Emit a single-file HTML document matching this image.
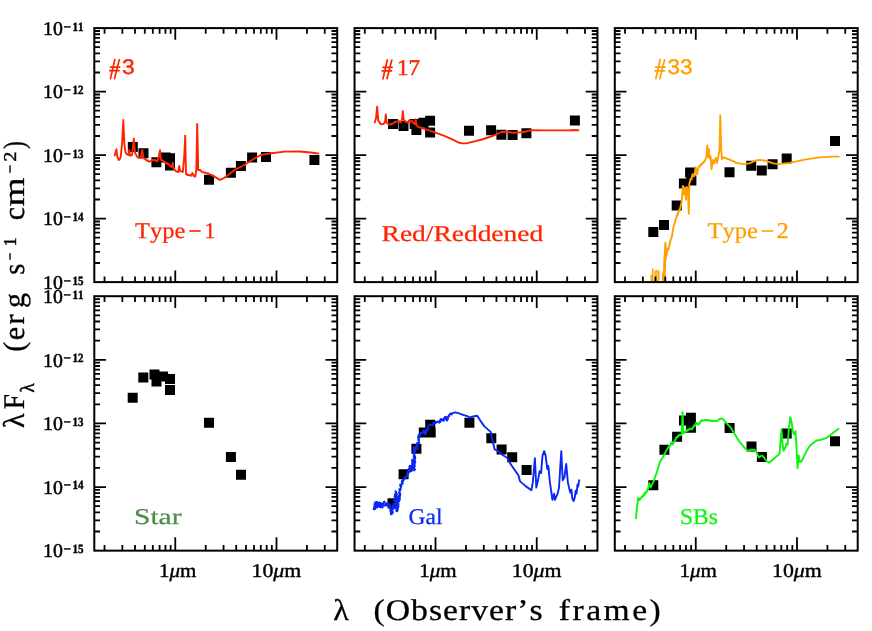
<!DOCTYPE html>
<html><head><meta charset="utf-8"><title>SED</title>
<style>html,body{margin:0;padding:0;background:#fff;overflow:hidden}svg{display:block;will-change:transform}text{font-kerning:none;text-rendering:geometricPrecision}</style></head>
<body>
<svg width="872" height="631" viewBox="0 0 872 631">
<rect width="872" height="631" fill="#fff"/>
<path d="M127.80 141.90h10.0v10.0h-10.0zM138.50 148.20h10.0v10.0h-10.0zM151.40 157.20h10.0v10.0h-10.0zM160.70 152.40h10.0v10.0h-10.0zM165.00 153.20h10.0v10.0h-10.0zM165.00 160.50h10.0v10.0h-10.0zM204.00 174.70h10.0v10.0h-10.0zM225.90 167.80h10.0v10.0h-10.0zM235.90 161.10h10.0v10.0h-10.0zM247.10 152.60h10.0v10.0h-10.0zM261.00 151.90h10.0v10.0h-10.0zM309.40 154.90h10.0v10.0h-10.0z" fill="#000"/>
<clipPath id="c00"><rect x="94.3" y="28.1" width="242.9" height="254.00000000000003"/></clipPath>
<g clip-path="url(#c00)">
<path d="M114.7 155.4L116.4 149.2L117.4 157.1L117.8 158.1L117.7 157.7L118.2 159.0L118.3 159.3L118.6 159.8L118.8 160.2L119.0 159.8L119.4 159.1L119.9 158.9L120.1 158.6L120.3 157.6L120.7 157.1L122.1 142.8L123.3 120.0L124.3 142.8L125.4 152.1L125.6 152.1L126.0 153.0L126.5 153.4L126.8 154.0L127.1 154.5L127.7 154.5L128.5 155.0L129.3 150.0L130.0 155.7L130.4 155.4L131.2 155.4L131.5 155.3L132.1 155.0L133.8 138.5L135.0 152.8L137.4 157.1L138.0 157.6L138.6 157.6L139.1 157.7L139.7 157.4L140.0 158.1L140.7 157.8L142.4 150.0L143.2 157.8L143.8 158.4L144.2 158.5L144.8 158.9L145.3 159.3L145.7 159.7L146.3 159.8L146.7 160.6L147.3 160.5L147.7 160.9L148.1 160.6L148.6 161.4L149.2 161.4L149.6 161.6L150.2 161.4L150.8 161.3L151.3 160.6L151.8 160.6L152.2 160.0L152.8 160.0L153.5 159.9L153.8 160.0L154.5 160.1L155.0 159.7L155.4 160.5L155.9 160.8L156.5 161.1L157.1 161.4L157.5 160.5L157.7 159.8L157.9 160.0L158.3 158.8L158.5 158.5L160.0 150.2L161.1 160.0L161.7 160.3L162.1 160.2L162.7 160.7L163.3 161.0L163.8 161.3L164.2 162.1L164.7 161.9L165.2 162.9L165.9 162.6L166.2 163.0L166.8 163.9L167.4 163.2L168.0 164.1L168.5 164.2L168.9 164.2L169.3 164.6L169.8 165.7L170.2 166.3L170.6 166.6L170.9 166.7L171.4 167.1L172.8 162.8L173.5 168.5L173.9 169.1L174.3 168.9L174.6 170.1L175.1 170.2L175.5 170.6L175.9 171.4L176.4 171.4L177.0 171.7L177.6 171.4L178.2 172.1L179.2 166.0L180.2 171.4L180.7 171.2L181.4 171.3L182.2 171.5L182.8 172.1L184.2 157.1L185.2 135.7L186.0 174.2L186.8 174.4L187.4 175.0L187.9 174.5L188.5 175.0L189.1 174.9L189.7 175.4L190.1 175.6L190.7 175.5L191.3 175.7L191.4 174.7L191.7 174.6L191.9 174.4L192.2 173.2L192.5 173.1L192.6 173.4L192.9 174.2L193.1 174.5L193.4 174.9L193.5 175.7L194.2 176.4L194.7 176.1L195.3 176.4L196.3 170.0L197.2 124.0L198.2 170.0L198.6 170.1L199.3 169.9L199.9 170.0L200.2 170.0L200.8 171.0L201.4 171.1L201.7 171.5L202.2 172.2L202.7 172.1L208.4 173.5L214.5 176.6L219.7 179.9L223.4 178.4L229.4 174.0L234.6 169.9L243.5 165.5L251.7 160.2L260.7 155.0L269.6 153.5L284.5 151.6L299.4 151.5L308.4 152.3L318.1 153.5" stroke="#ff2400" stroke-width="1.9" fill="none" stroke-linejoin="round" stroke-linecap="round"/>
</g>
<rect x="94.30" y="28.10" width="242.90" height="254.00" fill="none" stroke="#000" stroke-width="2.0"/>
<path d="M104.53 282.10v-5.7M104.53 28.10v5.7M122.35 282.10v-5.7M122.35 28.10v5.7M134.99 282.10v-5.7M134.99 28.10v5.7M144.80 282.10v-5.7M144.80 28.10v5.7M152.81 282.10v-5.7M152.81 28.10v5.7M159.59 282.10v-5.7M159.59 28.10v5.7M165.46 282.10v-5.7M165.46 28.10v5.7M170.64 282.10v-5.7M170.64 28.10v5.7M175.27 282.10v-11.5M175.27 28.10v11.7M205.73 282.10v-5.7M205.73 28.10v5.7M223.56 282.10v-5.7M223.56 28.10v5.7M236.20 282.10v-5.7M236.20 28.10v5.7M246.01 282.10v-5.7M246.01 28.10v5.7M254.02 282.10v-5.7M254.02 28.10v5.7M260.80 282.10v-5.7M260.80 28.10v5.7M266.67 282.10v-5.7M266.67 28.10v5.7M271.84 282.10v-5.7M271.84 28.10v5.7M276.48 282.10v-11.5M276.48 28.10v11.7M306.94 282.10v-5.7M306.94 28.10v5.7M324.76 282.10v-5.7M324.76 28.10v5.7M94.30 91.60h11.7M337.20 91.60h-11.7M94.30 72.48h5.7M337.20 72.48h-5.7M94.30 61.30h5.7M337.20 61.30h-5.7M94.30 53.37h5.7M337.20 53.37h-5.7M94.30 47.22h5.7M337.20 47.22h-5.7M94.30 42.19h5.7M337.20 42.19h-5.7M94.30 37.94h5.7M337.20 37.94h-5.7M94.30 34.25h5.7M337.20 34.25h-5.7M94.30 31.01h5.7M337.20 31.01h-5.7M94.30 155.10h11.7M337.20 155.10h-11.7M94.30 135.98h5.7M337.20 135.98h-5.7M94.30 124.80h5.7M337.20 124.80h-5.7M94.30 116.87h5.7M337.20 116.87h-5.7M94.30 110.72h5.7M337.20 110.72h-5.7M94.30 105.69h5.7M337.20 105.69h-5.7M94.30 101.44h5.7M337.20 101.44h-5.7M94.30 97.75h5.7M337.20 97.75h-5.7M94.30 94.51h5.7M337.20 94.51h-5.7M94.30 218.60h11.7M337.20 218.60h-11.7M94.30 199.48h5.7M337.20 199.48h-5.7M94.30 188.30h5.7M337.20 188.30h-5.7M94.30 180.37h5.7M337.20 180.37h-5.7M94.30 174.22h5.7M337.20 174.22h-5.7M94.30 169.19h5.7M337.20 169.19h-5.7M94.30 164.94h5.7M337.20 164.94h-5.7M94.30 161.25h5.7M337.20 161.25h-5.7M94.30 158.01h5.7M337.20 158.01h-5.7M94.30 262.98h5.7M337.20 262.98h-5.7M94.30 251.80h5.7M337.20 251.80h-5.7M94.30 243.87h5.7M337.20 243.87h-5.7M94.30 237.72h5.7M337.20 237.72h-5.7M94.30 232.69h5.7M337.20 232.69h-5.7M94.30 228.44h5.7M337.20 228.44h-5.7M94.30 224.75h5.7M337.20 224.75h-5.7M94.30 221.51h5.7M337.20 221.51h-5.7" stroke="#000" stroke-width="1.8" fill="none"/>
<path d="M388.00 118.90h10.0v10.0h-10.0zM398.50 120.90h10.0v10.0h-10.0zM409.60 118.90h10.0v10.0h-10.0zM411.40 124.90h10.0v10.0h-10.0zM418.50 117.80h10.0v10.0h-10.0zM425.10 115.70h10.0v10.0h-10.0zM425.10 127.60h10.0v10.0h-10.0zM464.00 125.80h10.0v10.0h-10.0zM486.10 125.30h10.0v10.0h-10.0zM496.40 129.80h10.0v10.0h-10.0zM507.60 130.10h10.0v10.0h-10.0zM521.40 128.20h10.0v10.0h-10.0zM569.90 115.50h10.0v10.0h-10.0z" fill="#000"/>
<clipPath id="c10"><rect x="354.55" y="28.1" width="242.9" height="254.00000000000003"/></clipPath>
<g clip-path="url(#c10)">
<path d="M374.7 122.5L376.0 118.5L377.1 106.8L378.3 120.7L378.7 121.0L379.0 121.5L379.2 122.2L379.8 122.2L380.0 122.9L380.4 123.9L380.7 124.0L381.3 124.3L381.7 124.1L382.5 124.1L383.0 124.0L383.5 124.0L383.8 123.7L384.3 123.3L384.5 122.4L385.0 122.1L385.8 114.5L386.7 122.8L387.2 123.4L387.8 123.7L388.4 124.0L388.9 124.1L389.3 124.5L390.0 124.3L390.4 124.5L391.0 123.7L391.6 124.2L392.2 123.8L392.8 123.5L393.3 123.2L393.8 122.7L394.3 122.5L394.8 122.2L395.3 122.0L395.7 121.4L396.2 121.5L397.0 121.6L397.5 121.6L398.0 121.4L398.6 121.4L399.2 121.1L399.6 121.4L400.3 122.3L400.7 122.5L401.0 121.6L401.1 121.4L401.5 120.7L401.5 120.7L401.8 119.9L402.1 119.3L402.8 111.1L403.7 119.3L404.1 120.0L404.6 120.6L405.0 120.7L405.2 121.1L405.7 121.7L406.1 122.0L406.7 121.9L407.2 122.4L407.8 122.5L408.2 121.6L408.6 121.3L408.8 121.2L409.2 120.3L409.7 120.7L410.2 121.3L410.7 121.7L411.2 121.4L411.6 121.4L412.1 120.7L412.4 121.2L412.6 121.6L412.9 122.8L413.1 123.0L413.5 123.5L414.2 123.8L414.9 124.2L415.7 119.3L416.4 125.0L416.8 125.0L417.1 125.8L417.7 126.2L418.0 126.6L418.5 126.8L424.2 128.8L434.2 132.1L445.6 136.4L452.8 139.7L458.5 142.5L462.0 143.4L467.0 143.2L472.7 141.8L481.9 139.5L493.9 135.5L501.3 132.0L505.8 131.7L513.2 132.8L522.2 132.2L531.1 130.3L544.5 130.4L569.9 130.4L572.9 130.0L578.4 130.2" stroke="#ff2400" stroke-width="1.9" fill="none" stroke-linejoin="round" stroke-linecap="round"/>
</g>
<rect x="354.55" y="28.10" width="242.90" height="254.00" fill="none" stroke="#000" stroke-width="2.0"/>
<path d="M364.78 282.10v-5.7M364.78 28.10v5.7M382.60 282.10v-5.7M382.60 28.10v5.7M395.24 282.10v-5.7M395.24 28.10v5.7M405.05 282.10v-5.7M405.05 28.10v5.7M413.06 282.10v-5.7M413.06 28.10v5.7M419.84 282.10v-5.7M419.84 28.10v5.7M425.71 282.10v-5.7M425.71 28.10v5.7M430.89 282.10v-5.7M430.89 28.10v5.7M435.52 282.10v-11.5M435.52 28.10v11.7M465.98 282.10v-5.7M465.98 28.10v5.7M483.81 282.10v-5.7M483.81 28.10v5.7M496.45 282.10v-5.7M496.45 28.10v5.7M506.26 282.10v-5.7M506.26 28.10v5.7M514.27 282.10v-5.7M514.27 28.10v5.7M521.05 282.10v-5.7M521.05 28.10v5.7M526.92 282.10v-5.7M526.92 28.10v5.7M532.09 282.10v-5.7M532.09 28.10v5.7M536.73 282.10v-11.5M536.73 28.10v11.7M567.19 282.10v-5.7M567.19 28.10v5.7M585.01 282.10v-5.7M585.01 28.10v5.7M354.55 91.60h11.7M597.45 91.60h-11.7M354.55 72.48h5.7M597.45 72.48h-5.7M354.55 61.30h5.7M597.45 61.30h-5.7M354.55 53.37h5.7M597.45 53.37h-5.7M354.55 47.22h5.7M597.45 47.22h-5.7M354.55 42.19h5.7M597.45 42.19h-5.7M354.55 37.94h5.7M597.45 37.94h-5.7M354.55 34.25h5.7M597.45 34.25h-5.7M354.55 31.01h5.7M597.45 31.01h-5.7M354.55 155.10h11.7M597.45 155.10h-11.7M354.55 135.98h5.7M597.45 135.98h-5.7M354.55 124.80h5.7M597.45 124.80h-5.7M354.55 116.87h5.7M597.45 116.87h-5.7M354.55 110.72h5.7M597.45 110.72h-5.7M354.55 105.69h5.7M597.45 105.69h-5.7M354.55 101.44h5.7M597.45 101.44h-5.7M354.55 97.75h5.7M597.45 97.75h-5.7M354.55 94.51h5.7M597.45 94.51h-5.7M354.55 218.60h11.7M597.45 218.60h-11.7M354.55 199.48h5.7M597.45 199.48h-5.7M354.55 188.30h5.7M597.45 188.30h-5.7M354.55 180.37h5.7M597.45 180.37h-5.7M354.55 174.22h5.7M597.45 174.22h-5.7M354.55 169.19h5.7M597.45 169.19h-5.7M354.55 164.94h5.7M597.45 164.94h-5.7M354.55 161.25h5.7M597.45 161.25h-5.7M354.55 158.01h5.7M597.45 158.01h-5.7M354.55 262.98h5.7M597.45 262.98h-5.7M354.55 251.80h5.7M597.45 251.80h-5.7M354.55 243.87h5.7M597.45 243.87h-5.7M354.55 237.72h5.7M597.45 237.72h-5.7M354.55 232.69h5.7M597.45 232.69h-5.7M354.55 228.44h5.7M597.45 228.44h-5.7M354.55 224.75h5.7M597.45 224.75h-5.7M354.55 221.51h5.7M597.45 221.51h-5.7" stroke="#000" stroke-width="1.8" fill="none"/>
<path d="M648.30 226.90h10.0v10.0h-10.0zM659.00 220.10h10.0v10.0h-10.0zM671.70 200.50h10.0v10.0h-10.0zM678.90 178.60h10.0v10.0h-10.0zM685.10 167.60h10.0v10.0h-10.0zM686.40 175.40h10.0v10.0h-10.0zM724.50 167.30h10.0v10.0h-10.0zM746.20 160.70h10.0v10.0h-10.0zM756.80 165.40h10.0v10.0h-10.0zM767.60 159.20h10.0v10.0h-10.0zM781.70 153.50h10.0v10.0h-10.0zM830.00 136.10h10.0v10.0h-10.0z" fill="#000"/>
<clipPath id="c20"><rect x="614.8" y="28.1" width="242.9" height="254.00000000000003"/></clipPath>
<g clip-path="url(#c20)">
<path d="M662.7 283.0L663.3 272.5L663.8 283.0L664.2 262.5L664.7 255.2L665.4 242.8L666.3 256.2L667.4 250.7L667.4 249.6L667.7 249.4L668.1 248.2L668.6 249.4L668.7 248.0L670.2 241.6L672.0 236.1L673.3 227.9L674.7 222.8L676.4 217.3L676.4 217.3L676.7 216.3L676.8 215.0L677.5 214.6L677.6 215.2L677.4 214.6L677.9 213.1L678.2 213.4L678.2 212.4L678.2 212.6L678.8 211.6L678.8 210.8L679.0 210.2L679.7 210.6L679.6 209.3L680.0 208.7L681.5 202.4L682.4 193.2L682.9 185.9L683.8 194.2L684.8 187.4L685.9 199.6L686.9 186.9L688.0 193.2L688.8 213.7L689.3 184.1L690.6 179.0L691.3 179.2L691.5 179.5L691.8 178.9L691.7 177.6L691.9 177.2L692.0 175.7L692.0 176.5L692.5 174.4L692.7 174.3L692.8 174.2L693.1 174.7L693.3 176.2L693.7 175.6L694.2 176.3L695.6 167.1L697.1 174.2L698.5 167.1L698.8 167.0L699.6 166.1L699.9 165.6L700.1 166.4L700.7 164.4L701.3 164.9L701.7 164.7L702.0 163.8L702.4 163.3L702.8 162.7L703.2 163.1L703.6 162.5L703.8 161.4L704.2 161.4L704.6 161.4L704.9 160.3L705.2 160.0L705.3 159.1L705.6 158.8L706.1 158.2L706.3 157.8L707.3 145.4L708.2 157.1L708.8 149.2L709.6 158.5L709.7 157.8L710.0 157.0L710.3 157.2L710.6 156.4L711.6 169.2L712.8 159.9L712.9 160.2L713.2 161.4L713.3 161.2L713.5 161.5L713.7 162.6L714.0 162.5L714.2 163.5L715.6 157.8L715.9 158.1L715.9 158.5L716.0 159.7L716.2 160.5L716.4 160.3L716.5 160.7L716.8 161.4L716.8 162.6L717.0 162.8L718.2 157.1L719.5 149.9L720.3 115.4L721.2 149.9L722.0 159.2L722.3 158.3L722.7 158.1L723.2 157.7L723.5 157.5L728.4 159.2L734.2 161.6L736.0 162.9L743.4 164.1L749.4 163.4L755.3 160.7L759.8 159.9L765.8 160.8L773.2 163.4L779.2 164.1L789.6 162.9L804.5 159.6L819.4 157.4L831.4 156.6L838.8 156.6" stroke="#ffa000" stroke-width="1.9" fill="none" stroke-linejoin="round" stroke-linecap="round"/>
<path d="M651.3 283V274.6M652.8 283V268.6M655.1 283V270.4M656.9 283V270M658.8 283V270.4M663.1 283V274M664.6 283L665.5 262L666.3 256" stroke="#ffa000" stroke-width="1.5" fill="none"/>
</g>
<rect x="614.80" y="28.10" width="242.90" height="254.00" fill="none" stroke="#000" stroke-width="2.0"/>
<path d="M625.03 282.10v-5.7M625.03 28.10v5.7M642.85 282.10v-5.7M642.85 28.10v5.7M655.49 282.10v-5.7M655.49 28.10v5.7M665.30 282.10v-5.7M665.30 28.10v5.7M673.31 282.10v-5.7M673.31 28.10v5.7M680.09 282.10v-5.7M680.09 28.10v5.7M685.96 282.10v-5.7M685.96 28.10v5.7M691.14 282.10v-5.7M691.14 28.10v5.7M695.77 282.10v-11.5M695.77 28.10v11.7M726.23 282.10v-5.7M726.23 28.10v5.7M744.06 282.10v-5.7M744.06 28.10v5.7M756.70 282.10v-5.7M756.70 28.10v5.7M766.51 282.10v-5.7M766.51 28.10v5.7M774.52 282.10v-5.7M774.52 28.10v5.7M781.30 282.10v-5.7M781.30 28.10v5.7M787.17 282.10v-5.7M787.17 28.10v5.7M792.34 282.10v-5.7M792.34 28.10v5.7M796.98 282.10v-11.5M796.98 28.10v11.7M827.44 282.10v-5.7M827.44 28.10v5.7M845.26 282.10v-5.7M845.26 28.10v5.7M614.80 91.60h11.7M857.70 91.60h-11.7M614.80 72.48h5.7M857.70 72.48h-5.7M614.80 61.30h5.7M857.70 61.30h-5.7M614.80 53.37h5.7M857.70 53.37h-5.7M614.80 47.22h5.7M857.70 47.22h-5.7M614.80 42.19h5.7M857.70 42.19h-5.7M614.80 37.94h5.7M857.70 37.94h-5.7M614.80 34.25h5.7M857.70 34.25h-5.7M614.80 31.01h5.7M857.70 31.01h-5.7M614.80 155.10h11.7M857.70 155.10h-11.7M614.80 135.98h5.7M857.70 135.98h-5.7M614.80 124.80h5.7M857.70 124.80h-5.7M614.80 116.87h5.7M857.70 116.87h-5.7M614.80 110.72h5.7M857.70 110.72h-5.7M614.80 105.69h5.7M857.70 105.69h-5.7M614.80 101.44h5.7M857.70 101.44h-5.7M614.80 97.75h5.7M857.70 97.75h-5.7M614.80 94.51h5.7M857.70 94.51h-5.7M614.80 218.60h11.7M857.70 218.60h-11.7M614.80 199.48h5.7M857.70 199.48h-5.7M614.80 188.30h5.7M857.70 188.30h-5.7M614.80 180.37h5.7M857.70 180.37h-5.7M614.80 174.22h5.7M857.70 174.22h-5.7M614.80 169.19h5.7M857.70 169.19h-5.7M614.80 164.94h5.7M857.70 164.94h-5.7M614.80 161.25h5.7M857.70 161.25h-5.7M614.80 158.01h5.7M857.70 158.01h-5.7M614.80 262.98h5.7M857.70 262.98h-5.7M614.80 251.80h5.7M857.70 251.80h-5.7M614.80 243.87h5.7M857.70 243.87h-5.7M614.80 237.72h5.7M857.70 237.72h-5.7M614.80 232.69h5.7M857.70 232.69h-5.7M614.80 228.44h5.7M857.70 228.44h-5.7M614.80 224.75h5.7M857.70 224.75h-5.7M614.80 221.51h5.7M857.70 221.51h-5.7" stroke="#000" stroke-width="1.8" fill="none"/>
<path d="M127.70 392.70h10.0v10.0h-10.0zM138.30 372.60h10.0v10.0h-10.0zM149.50 369.40h10.0v10.0h-10.0zM151.50 376.60h10.0v10.0h-10.0zM158.10 371.60h10.0v10.0h-10.0zM165.00 374.00h10.0v10.0h-10.0zM165.00 385.10h10.0v10.0h-10.0zM204.00 417.70h10.0v10.0h-10.0zM225.90 451.90h10.0v10.0h-10.0zM236.00 469.80h10.0v10.0h-10.0z" fill="#000"/>
<rect x="94.30" y="296.20" width="242.90" height="254.45" fill="none" stroke="#000" stroke-width="2.0"/>
<path d="M104.53 550.65v-5.7M104.53 296.20v5.7M122.35 550.65v-5.7M122.35 296.20v5.7M134.99 550.65v-5.7M134.99 296.20v5.7M144.80 550.65v-5.7M144.80 296.20v5.7M152.81 550.65v-5.7M152.81 296.20v5.7M159.59 550.65v-5.7M159.59 296.20v5.7M165.46 550.65v-5.7M165.46 296.20v5.7M170.64 550.65v-5.7M170.64 296.20v5.7M175.27 550.65v-13.4M175.27 296.20v11.7M205.73 550.65v-5.7M205.73 296.20v5.7M223.56 550.65v-5.7M223.56 296.20v5.7M236.20 550.65v-5.7M236.20 296.20v5.7M246.01 550.65v-5.7M246.01 296.20v5.7M254.02 550.65v-5.7M254.02 296.20v5.7M260.80 550.65v-5.7M260.80 296.20v5.7M266.67 550.65v-5.7M266.67 296.20v5.7M271.84 550.65v-5.7M271.84 296.20v5.7M276.48 550.65v-13.4M276.48 296.20v11.7M306.94 550.65v-5.7M306.94 296.20v5.7M324.76 550.65v-5.7M324.76 296.20v5.7M94.30 359.81h11.7M337.20 359.81h-11.7M94.30 340.66h5.7M337.20 340.66h-5.7M94.30 329.46h5.7M337.20 329.46h-5.7M94.30 321.51h5.7M337.20 321.51h-5.7M94.30 315.35h5.7M337.20 315.35h-5.7M94.30 310.31h5.7M337.20 310.31h-5.7M94.30 306.05h5.7M337.20 306.05h-5.7M94.30 302.36h5.7M337.20 302.36h-5.7M94.30 299.11h5.7M337.20 299.11h-5.7M94.30 423.42h11.7M337.20 423.42h-11.7M94.30 404.28h5.7M337.20 404.28h-5.7M94.30 393.07h5.7M337.20 393.07h-5.7M94.30 385.13h5.7M337.20 385.13h-5.7M94.30 378.96h5.7M337.20 378.96h-5.7M94.30 373.92h5.7M337.20 373.92h-5.7M94.30 369.67h5.7M337.20 369.67h-5.7M94.30 365.98h5.7M337.20 365.98h-5.7M94.30 362.72h5.7M337.20 362.72h-5.7M94.30 487.04h11.7M337.20 487.04h-11.7M94.30 467.89h5.7M337.20 467.89h-5.7M94.30 456.69h5.7M337.20 456.69h-5.7M94.30 448.74h5.7M337.20 448.74h-5.7M94.30 442.57h5.7M337.20 442.57h-5.7M94.30 437.54h5.7M337.20 437.54h-5.7M94.30 433.28h5.7M337.20 433.28h-5.7M94.30 429.59h5.7M337.20 429.59h-5.7M94.30 426.34h5.7M337.20 426.34h-5.7M94.30 531.50h5.7M337.20 531.50h-5.7M94.30 520.30h5.7M337.20 520.30h-5.7M94.30 512.35h5.7M337.20 512.35h-5.7M94.30 506.19h5.7M337.20 506.19h-5.7M94.30 501.15h5.7M337.20 501.15h-5.7M94.30 496.89h5.7M337.20 496.89h-5.7M94.30 493.20h5.7M337.20 493.20h-5.7M94.30 489.95h5.7M337.20 489.95h-5.7" stroke="#000" stroke-width="1.8" fill="none"/>
<path d="M387.50 498.20h10.0v10.0h-10.0zM398.60 469.30h10.0v10.0h-10.0zM411.40 443.80h10.0v10.0h-10.0zM418.80 427.50h10.0v10.0h-10.0zM425.20 419.80h10.0v10.0h-10.0zM425.70 427.60h10.0v10.0h-10.0zM464.40 417.80h10.0v10.0h-10.0zM486.30 433.20h10.0v10.0h-10.0zM496.60 444.50h10.0v10.0h-10.0zM507.20 452.20h10.0v10.0h-10.0zM521.60 464.90h10.0v10.0h-10.0z" fill="#000"/>
<clipPath id="c11"><rect x="354.55" y="296.2" width="242.9" height="254.45"/></clipPath>
<g clip-path="url(#c11)">
<path d="M374.4 504.1L375.1 505.2L375.7 506.4L375.7 506.8L374.5 504.5L375.0 508.8L373.6 509.2L374.0 508.0L375.0 508.9L374.8 509.3L374.1 506.8L376.2 507.3L374.1 508.7L374.2 508.3L374.3 507.0L376.4 504.0L374.7 504.3L376.6 506.8L377.0 503.5L376.3 503.9L377.1 502.0L377.3 503.4L376.1 502.1L375.6 504.2L375.3 502.7L375.1 502.4L376.7 503.6L377.0 502.9L376.1 504.9L376.7 507.3L376.8 505.9L376.9 507.2L375.8 507.4L375.9 507.9L378.4 506.4L378.4 502.9L378.0 503.7L376.7 501.7L378.1 503.1L379.6 502.4L379.2 502.9L380.0 506.4L378.6 504.6L379.9 505.8L380.1 504.7L379.6 506.8L380.8 507.4L381.2 503.7L379.7 503.3L381.4 504.8L381.6 503.1L380.6 503.1L380.4 503.8L380.3 503.4L380.5 503.0L383.1 505.9L380.8 504.3L382.3 506.2L382.6 507.6L382.0 504.8L383.9 505.0L383.0 504.0L384.6 501.8L383.7 503.1L384.1 501.7L383.5 505.5L386.2 505.5L386.2 505.6L385.8 505.6L386.0 503.5L387.6 503.2L386.9 503.3L388.4 505.6L387.8 503.1L387.9 505.5L388.9 504.1L387.9 504.6L387.7 504.8L390.2 505.2L389.4 508.0L388.8 506.7L389.5 507.2L389.0 506.1L390.7 509.4L390.6 508.3L390.5 510.5L390.8 510.6L390.7 510.0L390.2 510.2L390.9 512.7L391.7 511.4L390.8 513.3L390.8 511.3L391.3 512.8L390.9 514.4L391.9 513.7L392.0 513.9L391.6 512.2L392.3 513.2L392.4 511.1L392.1 512.6L393.0 512.5L391.9 510.1L392.9 508.1L392.0 510.7L392.8 509.2L391.3 508.8L392.6 508.4L392.3 507.4L392.6 506.2L393.8 507.1L394.0 507.5L392.8 505.5L394.6 507.6L394.6 508.2L395.2 506.5L393.4 507.6L394.0 506.4L393.8 504.2L394.0 504.6L393.6 503.6L394.6 504.1L395.3 504.1L396.2 502.1L394.9 500.5L394.9 501.1L396.1 499.9L394.0 500.3L394.2 500.7L394.9 499.9L396.7 499.5L395.3 499.9L395.9 499.3L394.6 496.9L395.8 497.3L397.0 498.2L395.3 496.2L394.4 496.8L396.0 493.1L394.9 494.5L397.0 494.0L395.8 492.4L395.5 491.3L396.1 491.8L395.9 493.9L397.1 494.4L395.6 493.8L396.2 495.6L395.8 494.3L396.3 496.7L396.2 495.0L396.6 495.0L395.9 496.6L397.1 498.3L396.5 496.4L397.4 497.8L395.9 499.9L395.7 498.9L396.1 501.7L396.5 501.1L396.8 501.7L395.8 502.6L396.2 503.2L396.3 503.1L396.8 502.8L396.4 503.9L397.0 505.4L396.2 503.7L397.7 505.6L396.9 507.5L397.5 505.3L397.1 507.2L397.2 508.6L397.9 508.5L396.7 508.7L396.3 510.8L397.8 509.5L397.8 509.4L397.1 511.3L397.0 511.4L397.8 509.5L396.4 511.0L397.4 509.0L396.9 508.5L397.5 506.9L396.4 508.4L398.1 506.0L397.8 507.2L398.0 504.2L398.6 506.7L396.6 505.3L397.0 505.2L398.7 504.0L396.9 503.7L398.7 501.8L398.0 500.8L397.0 501.1L396.8 501.2L397.6 499.0L396.9 498.3L398.5 499.4L397.2 499.8L397.6 497.8L398.0 497.8L398.1 496.9L398.0 498.9L398.9 496.6L398.9 497.5L399.6 499.3L399.2 500.0L399.2 499.7L399.2 501.0L399.8 499.7L398.5 499.9L399.0 498.5L398.7 499.5L399.8 498.9L399.8 496.3L398.7 495.8L399.0 496.8L399.6 497.2L400.3 494.8L400.2 493.3L399.0 492.9L400.2 495.2L399.0 492.3L400.3 494.1L399.1 493.1L399.6 491.9L399.6 490.1L399.7 490.7L399.3 489.5L400.5 490.3L400.2 488.7L400.2 489.1L400.6 488.7L400.9 487.3L400.7 487.2L400.1 484.6L400.3 484.4L401.5 486.0L400.6 485.0L402.8 483.5L401.9 483.4L402.3 482.5L401.7 481.9L402.2 480.4L403.0 480.5L402.9 481.7L403.5 479.1L404.3 479.4L404.2 477.8L405.0 477.5L406.3 476.4L406.7 476.9L406.4 477.4L406.4 476.3L407.7 475.7L407.5 474.0L407.8 474.1L407.0 475.0L407.1 472.8L408.5 473.2L407.7 471.8L409.9 471.8L408.5 471.1L408.6 470.9L409.8 471.2L408.8 468.8L410.6 469.9L409.6 469.2L408.8 469.7L410.7 466.3L409.2 466.8L411.4 466.7L410.5 466.0L410.3 466.6L409.8 465.8L410.8 469.0L409.9 469.7L410.0 468.0L410.2 469.1L411.1 469.2L410.4 469.9L411.5 471.1L412.6 469.1L411.7 468.9L411.8 469.1L411.4 467.5L412.0 467.0L412.2 469.1L411.5 468.3L412.3 465.0L412.4 466.0L412.6 465.1L413.4 465.6L412.4 463.7L412.0 464.8L412.3 462.0L413.4 461.3L412.4 463.1L412.0 460.3L412.1 460.1L413.3 460.1L413.2 459.8L412.3 459.6L412.3 461.6L412.9 460.6L412.5 461.7L413.0 462.4L413.6 464.0L413.9 465.1L413.7 465.2L414.3 464.8L414.7 466.0L414.1 466.8L414.4 465.9L412.9 466.9L413.1 466.4L414.3 467.6L412.9 468.3L414.1 470.4L414.0 470.1L413.0 468.0L413.7 467.8L415.1 469.6L413.5 468.2L413.8 467.1L413.0 466.2L414.8 466.5L413.2 466.4L413.4 465.2L414.0 465.2L414.8 465.4L413.8 462.2L414.1 464.2L414.1 462.1L415.2 462.7L415.3 461.3L413.4 461.0L414.1 461.1L415.3 458.1L414.5 457.5L415.2 458.4L413.7 457.6L413.7 456.7L414.0 457.0L413.8 457.1L413.8 455.2L415.2 456.7L414.7 455.7L413.6 453.7L414.4 454.6L413.7 451.5L415.0 451.1L413.8 453.1L414.1 452.2L415.3 451.3L415.2 450.6L413.4 449.2L414.8 449.1L414.3 447.5L413.5 447.4L414.6 447.4L414.9 447.1L416.1 447.9L417.3 447.9L416.7 448.5L417.8 449.0L417.3 448.0L417.7 447.0L417.4 445.8L417.3 446.3L416.4 444.5L417.2 443.3L418.2 444.3L417.3 444.2L417.3 444.3L417.0 443.1L418.4 442.7L419.1 442.8L419.0 441.4L418.4 440.2L418.8 440.4L418.7 438.1L418.2 439.8L419.0 439.5L417.9 437.0L418.4 436.5L420.2 436.7L419.7 437.0L418.7 434.8L419.8 435.2L419.8 434.0L420.1 434.2L420.4 434.3L421.0 432.9L421.9 433.0L422.9 432.8L422.9 431.5L422.7 432.3L423.6 430.4L423.9 430.9L424.7 432.1L424.4 432.4L424.8 432.3L424.8 433.8L425.5 433.0L425.6 434.0L425.3 434.4L425.4 431.9L426.2 432.4L425.8 431.1L426.6 431.4L426.9 431.0L426.7 429.2L427.5 430.1L427.0 428.9L427.8 428.1L428.3 428.3L428.3 427.0L428.3 427.7L428.3 425.8L428.5 425.4L429.6 424.9L430.1 424.4L430.1 424.7L431.2 425.1L431.6 425.1L432.6 425.3L433.2 424.6L433.2 424.3L433.2 423.2L433.8 422.8L434.7 423.0L435.6 423.3L435.6 421.8L436.3 422.3L436.7 422.4L437.7 421.5L438.4 422.0L439.4 422.3L439.4 422.3L439.1 422.7L440.3 421.9L439.7 420.5L440.3 420.4L441.4 420.4L440.8 419.2L441.4 419.0L442.2 419.4L442.6 420.4L442.7 419.8L443.5 420.6L443.8 420.8L444.0 418.6L444.6 418.5L444.4 417.6L445.0 417.1L445.4 418.4L445.6 416.9L446.4 417.2L445.8 417.1L445.5 419.1L446.2 419.5L446.3 418.6L446.6 420.0L447.0 420.6L446.6 420.1L448.0 418.9L447.5 418.8L447.4 417.5L448.2 418.7L447.5 417.2L448.7 416.4L448.6 415.9L448.7 415.5L449.4 416.0L449.1 415.1L450.6 413.5L451.3 413.9L451.9 414.4L451.8 413.4L455.3 412.4L459.0 413.4L463.1 414.8L467.2 416.1L470.3 417.5L473.1 416.5L477.2 415.7L480.3 420.6L484.4 426.4L490.6 431.9L492.7 441.2L494.7 449.4L498.8 451.5L503.0 455.2L507.1 457.7L509.1 461.8L513.3 468.0L518.4 475.2L520.1 481.4L525.6 486.1L531.4 490.2L532.8 482.4L534.9 458.3L536.3 487.6L538.0 480.3L539.6 471.1L541.1 473.1L542.5 455.6L544.2 451.1L545.6 455.6L547.3 469.0L548.3 465.9L549.9 482.4L551.4 492.7L552.4 499.9L554.1 493.7L554.9 499.9L557.6 493.7L559.0 487.6L560.2 468.0L561.3 451.1L562.7 480.3L564.4 477.3L566.2 463.9L567.9 482.4L569.5 489.6L570.5 492.7L571.4 489.6L572.4 498.9L573.6 501.0L574.7 497.9L575.7 490.6L576.5 493.7L577.5 484.5L578.2 486.5L579.2 480.3" stroke="#0a28f5" stroke-width="1.9" fill="none" stroke-linejoin="round" stroke-linecap="round"/>
</g>
<rect x="354.55" y="296.20" width="242.90" height="254.45" fill="none" stroke="#000" stroke-width="2.0"/>
<path d="M364.78 550.65v-5.7M364.78 296.20v5.7M382.60 550.65v-5.7M382.60 296.20v5.7M395.24 550.65v-5.7M395.24 296.20v5.7M405.05 550.65v-5.7M405.05 296.20v5.7M413.06 550.65v-5.7M413.06 296.20v5.7M419.84 550.65v-5.7M419.84 296.20v5.7M425.71 550.65v-5.7M425.71 296.20v5.7M430.89 550.65v-5.7M430.89 296.20v5.7M435.52 550.65v-13.4M435.52 296.20v11.7M465.98 550.65v-5.7M465.98 296.20v5.7M483.81 550.65v-5.7M483.81 296.20v5.7M496.45 550.65v-5.7M496.45 296.20v5.7M506.26 550.65v-5.7M506.26 296.20v5.7M514.27 550.65v-5.7M514.27 296.20v5.7M521.05 550.65v-5.7M521.05 296.20v5.7M526.92 550.65v-5.7M526.92 296.20v5.7M532.09 550.65v-5.7M532.09 296.20v5.7M536.73 550.65v-13.4M536.73 296.20v11.7M567.19 550.65v-5.7M567.19 296.20v5.7M585.01 550.65v-5.7M585.01 296.20v5.7M354.55 359.81h11.7M597.45 359.81h-11.7M354.55 340.66h5.7M597.45 340.66h-5.7M354.55 329.46h5.7M597.45 329.46h-5.7M354.55 321.51h5.7M597.45 321.51h-5.7M354.55 315.35h5.7M597.45 315.35h-5.7M354.55 310.31h5.7M597.45 310.31h-5.7M354.55 306.05h5.7M597.45 306.05h-5.7M354.55 302.36h5.7M597.45 302.36h-5.7M354.55 299.11h5.7M597.45 299.11h-5.7M354.55 423.42h11.7M597.45 423.42h-11.7M354.55 404.28h5.7M597.45 404.28h-5.7M354.55 393.07h5.7M597.45 393.07h-5.7M354.55 385.13h5.7M597.45 385.13h-5.7M354.55 378.96h5.7M597.45 378.96h-5.7M354.55 373.92h5.7M597.45 373.92h-5.7M354.55 369.67h5.7M597.45 369.67h-5.7M354.55 365.98h5.7M597.45 365.98h-5.7M354.55 362.72h5.7M597.45 362.72h-5.7M354.55 487.04h11.7M597.45 487.04h-11.7M354.55 467.89h5.7M597.45 467.89h-5.7M354.55 456.69h5.7M597.45 456.69h-5.7M354.55 448.74h5.7M597.45 448.74h-5.7M354.55 442.57h5.7M597.45 442.57h-5.7M354.55 437.54h5.7M597.45 437.54h-5.7M354.55 433.28h5.7M597.45 433.28h-5.7M354.55 429.59h5.7M597.45 429.59h-5.7M354.55 426.34h5.7M597.45 426.34h-5.7M354.55 531.50h5.7M597.45 531.50h-5.7M354.55 520.30h5.7M597.45 520.30h-5.7M354.55 512.35h5.7M597.45 512.35h-5.7M354.55 506.19h5.7M597.45 506.19h-5.7M354.55 501.15h5.7M597.45 501.15h-5.7M354.55 496.89h5.7M597.45 496.89h-5.7M354.55 493.20h5.7M597.45 493.20h-5.7M354.55 489.95h5.7M597.45 489.95h-5.7" stroke="#000" stroke-width="1.8" fill="none"/>
<path d="M648.30 480.30h10.0v10.0h-10.0zM659.40 444.80h10.0v10.0h-10.0zM672.10 431.70h10.0v10.0h-10.0zM679.00 415.50h10.0v10.0h-10.0zM685.90 412.80h10.0v10.0h-10.0zM685.90 422.80h10.0v10.0h-10.0zM724.60 422.90h10.0v10.0h-10.0zM746.50 441.60h10.0v10.0h-10.0zM756.90 452.10h10.0v10.0h-10.0zM781.70 428.60h10.0v10.0h-10.0zM830.00 436.20h10.0v10.0h-10.0z" fill="#000"/>
<clipPath id="c21"><rect x="614.8" y="296.2" width="242.9" height="254.45"/></clipPath>
<g clip-path="url(#c21)">
<path d="M636.0 518.2L636.9 507.6L638.2 498.0L638.7 499.1L638.7 499.1L639.3 498.8L639.5 500.2L640.0 499.6L640.3 498.9L640.6 498.2L640.7 498.5L641.1 497.6L641.6 497.3L642.0 496.2L642.2 496.9L642.9 496.5L643.1 496.2L643.7 494.4L644.0 495.3L644.4 494.3L644.6 493.1L644.9 493.6L645.4 493.8L645.8 492.0L646.3 491.8L646.4 492.3L646.8 491.4L647.3 491.2L647.3 489.4L647.7 489.8L649.3 483.2L649.4 483.9L649.4 484.5L649.8 485.5L650.0 484.7L649.9 485.6L650.1 486.5L650.6 486.5L650.6 487.6L653.3 482.1L656.6 473.2L659.9 462.1L663.3 456.5L666.6 449.9L666.7 449.8L667.1 449.4L667.9 448.1L668.0 448.2L668.4 447.2L669.1 446.3L669.1 445.7L669.5 446.4L669.9 445.5L670.0 445.8L670.6 445.2L670.9 444.1L671.1 443.1L671.2 443.2L671.5 442.1L671.9 442.6L671.9 443.0L672.3 444.2L672.8 444.3L675.5 439.2L676.0 438.8L676.0 437.8L676.6 437.3L676.8 437.3L677.6 437.1L677.7 436.3L678.1 437.0L678.4 435.5L678.8 435.5L679.1 435.2L679.7 434.7L680.2 435.2L681.0 434.7L681.1 434.9L681.7 433.9L682.6 412.2L683.4 433.3L683.7 433.2L684.3 432.5L685.0 432.8L684.9 431.6L685.4 431.6L686.2 430.5L686.5 431.0L687.1 430.0L687.7 430.1L687.7 430.7L688.7 429.2L688.9 429.6L689.6 429.6L689.9 428.8L690.4 429.0L690.9 428.4L691.6 428.7L692.1 429.5L692.2 429.2L692.4 428.7L693.0 427.3L693.4 427.4L693.6 427.2L693.9 425.8L694.1 425.3L694.3 425.5L694.9 425.8L695.0 425.3L695.6 424.5L696.0 423.0L696.1 424.0L696.5 422.8L696.9 423.7L697.4 423.2L697.9 423.2L698.1 424.4L698.4 424.8L698.7 424.2L699.2 423.6L699.7 423.4L699.9 422.8L700.8 420.8L701.0 421.1L701.6 421.0L702.0 420.2L702.5 420.4L703.3 420.8L703.8 420.5L704.3 419.9L704.7 419.8L705.3 420.3L705.9 420.2L706.4 420.2L707.1 419.9L707.6 420.0L708.1 420.2L708.7 420.6L709.3 420.3L709.7 420.6L710.4 420.5L710.9 421.3L711.5 420.6L712.1 420.7L712.7 421.3L713.2 421.1L713.7 420.7L714.3 420.9L715.0 420.8L715.4 420.9L716.0 421.0L716.5 421.0L717.2 420.8L717.6 420.6L718.2 419.9L718.6 419.8L719.3 419.2L719.8 419.3L720.5 418.8L721.1 418.7L721.8 418.5L722.5 418.8L722.9 419.5L723.5 419.8L723.8 420.0L724.4 420.9L724.7 421.1L727.6 424.4L730.9 427.7L734.1 433.3L739.3 441.5L744.4 447.7L748.1 451.0L750.6 449.7L754.7 449.7L756.8 452.8L758.8 457.6L760.9 455.9L763.0 455.9L765.0 459.0L767.1 461.7L769.1 462.7L774.3 458.4L779.4 453.9L780.5 441.5L781.5 429.1L782.5 443.6L783.6 450.8L785.2 447.7L786.7 443.2L787.7 444.6L788.7 431.2L790.2 417.2L791.4 420.9L792.8 431.2L793.9 434.3L795.5 431.2L796.3 443.6L797.6 468.3L798.6 455.5L800.0 462.1L801.7 461.1L804.2 455.9L807.3 449.7L810.3 445.2L816.5 440.5L820.6 439.9L826.8 437.8L833.0 432.9L838.4 428.7" stroke="#0cf50c" stroke-width="1.9" fill="none" stroke-linejoin="round" stroke-linecap="round"/>
</g>
<rect x="614.80" y="296.20" width="242.90" height="254.45" fill="none" stroke="#000" stroke-width="2.0"/>
<path d="M625.03 550.65v-5.7M625.03 296.20v5.7M642.85 550.65v-5.7M642.85 296.20v5.7M655.49 550.65v-5.7M655.49 296.20v5.7M665.30 550.65v-5.7M665.30 296.20v5.7M673.31 550.65v-5.7M673.31 296.20v5.7M680.09 550.65v-5.7M680.09 296.20v5.7M685.96 550.65v-5.7M685.96 296.20v5.7M691.14 550.65v-5.7M691.14 296.20v5.7M695.77 550.65v-13.4M695.77 296.20v11.7M726.23 550.65v-5.7M726.23 296.20v5.7M744.06 550.65v-5.7M744.06 296.20v5.7M756.70 550.65v-5.7M756.70 296.20v5.7M766.51 550.65v-5.7M766.51 296.20v5.7M774.52 550.65v-5.7M774.52 296.20v5.7M781.30 550.65v-5.7M781.30 296.20v5.7M787.17 550.65v-5.7M787.17 296.20v5.7M792.34 550.65v-5.7M792.34 296.20v5.7M796.98 550.65v-13.4M796.98 296.20v11.7M827.44 550.65v-5.7M827.44 296.20v5.7M845.26 550.65v-5.7M845.26 296.20v5.7M614.80 359.81h11.7M857.70 359.81h-11.7M614.80 340.66h5.7M857.70 340.66h-5.7M614.80 329.46h5.7M857.70 329.46h-5.7M614.80 321.51h5.7M857.70 321.51h-5.7M614.80 315.35h5.7M857.70 315.35h-5.7M614.80 310.31h5.7M857.70 310.31h-5.7M614.80 306.05h5.7M857.70 306.05h-5.7M614.80 302.36h5.7M857.70 302.36h-5.7M614.80 299.11h5.7M857.70 299.11h-5.7M614.80 423.42h11.7M857.70 423.42h-11.7M614.80 404.28h5.7M857.70 404.28h-5.7M614.80 393.07h5.7M857.70 393.07h-5.7M614.80 385.13h5.7M857.70 385.13h-5.7M614.80 378.96h5.7M857.70 378.96h-5.7M614.80 373.92h5.7M857.70 373.92h-5.7M614.80 369.67h5.7M857.70 369.67h-5.7M614.80 365.98h5.7M857.70 365.98h-5.7M614.80 362.72h5.7M857.70 362.72h-5.7M614.80 487.04h11.7M857.70 487.04h-11.7M614.80 467.89h5.7M857.70 467.89h-5.7M614.80 456.69h5.7M857.70 456.69h-5.7M614.80 448.74h5.7M857.70 448.74h-5.7M614.80 442.57h5.7M857.70 442.57h-5.7M614.80 437.54h5.7M857.70 437.54h-5.7M614.80 433.28h5.7M857.70 433.28h-5.7M614.80 429.59h5.7M857.70 429.59h-5.7M614.80 426.34h5.7M857.70 426.34h-5.7M614.80 531.50h5.7M857.70 531.50h-5.7M614.80 520.30h5.7M857.70 520.30h-5.7M614.80 512.35h5.7M857.70 512.35h-5.7M614.80 506.19h5.7M857.70 506.19h-5.7M614.80 501.15h5.7M857.70 501.15h-5.7M614.80 496.89h5.7M857.70 496.89h-5.7M614.80 493.20h5.7M857.70 493.20h-5.7M614.80 489.95h5.7M857.70 489.95h-5.7" stroke="#000" stroke-width="1.8" fill="none"/>
<text x="43.00" y="34.80" font-family="Liberation Serif" font-size="19.5" fill="#000" stroke="#000" stroke-width="0.5" stroke-linejoin="round" textLength="19.8" lengthAdjust="spacingAndGlyphs" >10</text>
<text x="63.60" y="30.50" font-family="Liberation Serif" font-size="12.5" fill="#000" stroke="#000" stroke-width="0.45" stroke-linejoin="round" textLength="7.6" lengthAdjust="spacingAndGlyphs" font-weight="bold">&#8722;</text>
<text x="72.40" y="30.50" font-family="Liberation Serif" font-size="12.5" fill="#000" stroke="#000" stroke-width="0.45" stroke-linejoin="round" textLength="11.0" lengthAdjust="spacingAndGlyphs" font-weight="bold">11</text>
<text x="43.00" y="98.30" font-family="Liberation Serif" font-size="19.5" fill="#000" stroke="#000" stroke-width="0.5" stroke-linejoin="round" textLength="19.8" lengthAdjust="spacingAndGlyphs" >10</text>
<text x="63.60" y="94.00" font-family="Liberation Serif" font-size="12.5" fill="#000" stroke="#000" stroke-width="0.45" stroke-linejoin="round" textLength="7.6" lengthAdjust="spacingAndGlyphs" font-weight="bold">&#8722;</text>
<text x="72.40" y="94.00" font-family="Liberation Serif" font-size="12.5" fill="#000" stroke="#000" stroke-width="0.45" stroke-linejoin="round" textLength="11.0" lengthAdjust="spacingAndGlyphs" font-weight="bold">12</text>
<text x="43.00" y="161.80" font-family="Liberation Serif" font-size="19.5" fill="#000" stroke="#000" stroke-width="0.5" stroke-linejoin="round" textLength="19.8" lengthAdjust="spacingAndGlyphs" >10</text>
<text x="63.60" y="157.50" font-family="Liberation Serif" font-size="12.5" fill="#000" stroke="#000" stroke-width="0.45" stroke-linejoin="round" textLength="7.6" lengthAdjust="spacingAndGlyphs" font-weight="bold">&#8722;</text>
<text x="72.40" y="157.50" font-family="Liberation Serif" font-size="12.5" fill="#000" stroke="#000" stroke-width="0.45" stroke-linejoin="round" textLength="11.0" lengthAdjust="spacingAndGlyphs" font-weight="bold">13</text>
<text x="43.00" y="225.30" font-family="Liberation Serif" font-size="19.5" fill="#000" stroke="#000" stroke-width="0.5" stroke-linejoin="round" textLength="19.8" lengthAdjust="spacingAndGlyphs" >10</text>
<text x="63.60" y="221.00" font-family="Liberation Serif" font-size="12.5" fill="#000" stroke="#000" stroke-width="0.45" stroke-linejoin="round" textLength="7.6" lengthAdjust="spacingAndGlyphs" font-weight="bold">&#8722;</text>
<text x="72.40" y="221.00" font-family="Liberation Serif" font-size="12.5" fill="#000" stroke="#000" stroke-width="0.45" stroke-linejoin="round" textLength="11.0" lengthAdjust="spacingAndGlyphs" font-weight="bold">14</text>
<text x="43.00" y="288.80" font-family="Liberation Serif" font-size="19.5" fill="#000" stroke="#000" stroke-width="0.5" stroke-linejoin="round" textLength="19.8" lengthAdjust="spacingAndGlyphs" >10</text>
<text x="63.60" y="284.50" font-family="Liberation Serif" font-size="12.5" fill="#000" stroke="#000" stroke-width="0.45" stroke-linejoin="round" textLength="7.6" lengthAdjust="spacingAndGlyphs" font-weight="bold">&#8722;</text>
<text x="72.40" y="284.50" font-family="Liberation Serif" font-size="12.5" fill="#000" stroke="#000" stroke-width="0.45" stroke-linejoin="round" textLength="11.0" lengthAdjust="spacingAndGlyphs" font-weight="bold">15</text>
<text x="43.00" y="302.90" font-family="Liberation Serif" font-size="19.5" fill="#000" stroke="#000" stroke-width="0.5" stroke-linejoin="round" textLength="19.8" lengthAdjust="spacingAndGlyphs" >10</text>
<text x="63.60" y="298.60" font-family="Liberation Serif" font-size="12.5" fill="#000" stroke="#000" stroke-width="0.45" stroke-linejoin="round" textLength="7.6" lengthAdjust="spacingAndGlyphs" font-weight="bold">&#8722;</text>
<text x="72.40" y="298.60" font-family="Liberation Serif" font-size="12.5" fill="#000" stroke="#000" stroke-width="0.45" stroke-linejoin="round" textLength="11.0" lengthAdjust="spacingAndGlyphs" font-weight="bold">11</text>
<text x="43.00" y="366.51" font-family="Liberation Serif" font-size="19.5" fill="#000" stroke="#000" stroke-width="0.5" stroke-linejoin="round" textLength="19.8" lengthAdjust="spacingAndGlyphs" >10</text>
<text x="63.60" y="362.21" font-family="Liberation Serif" font-size="12.5" fill="#000" stroke="#000" stroke-width="0.45" stroke-linejoin="round" textLength="7.6" lengthAdjust="spacingAndGlyphs" font-weight="bold">&#8722;</text>
<text x="72.40" y="362.21" font-family="Liberation Serif" font-size="12.5" fill="#000" stroke="#000" stroke-width="0.45" stroke-linejoin="round" textLength="11.0" lengthAdjust="spacingAndGlyphs" font-weight="bold">12</text>
<text x="43.00" y="430.12" font-family="Liberation Serif" font-size="19.5" fill="#000" stroke="#000" stroke-width="0.5" stroke-linejoin="round" textLength="19.8" lengthAdjust="spacingAndGlyphs" >10</text>
<text x="63.60" y="425.82" font-family="Liberation Serif" font-size="12.5" fill="#000" stroke="#000" stroke-width="0.45" stroke-linejoin="round" textLength="7.6" lengthAdjust="spacingAndGlyphs" font-weight="bold">&#8722;</text>
<text x="72.40" y="425.82" font-family="Liberation Serif" font-size="12.5" fill="#000" stroke="#000" stroke-width="0.45" stroke-linejoin="round" textLength="11.0" lengthAdjust="spacingAndGlyphs" font-weight="bold">13</text>
<text x="43.00" y="493.74" font-family="Liberation Serif" font-size="19.5" fill="#000" stroke="#000" stroke-width="0.5" stroke-linejoin="round" textLength="19.8" lengthAdjust="spacingAndGlyphs" >10</text>
<text x="63.60" y="489.44" font-family="Liberation Serif" font-size="12.5" fill="#000" stroke="#000" stroke-width="0.45" stroke-linejoin="round" textLength="7.6" lengthAdjust="spacingAndGlyphs" font-weight="bold">&#8722;</text>
<text x="72.40" y="489.44" font-family="Liberation Serif" font-size="12.5" fill="#000" stroke="#000" stroke-width="0.45" stroke-linejoin="round" textLength="11.0" lengthAdjust="spacingAndGlyphs" font-weight="bold">14</text>
<text x="43.00" y="557.35" font-family="Liberation Serif" font-size="19.5" fill="#000" stroke="#000" stroke-width="0.5" stroke-linejoin="round" textLength="19.8" lengthAdjust="spacingAndGlyphs" >10</text>
<text x="63.60" y="553.05" font-family="Liberation Serif" font-size="12.5" fill="#000" stroke="#000" stroke-width="0.45" stroke-linejoin="round" textLength="7.6" lengthAdjust="spacingAndGlyphs" font-weight="bold">&#8722;</text>
<text x="72.40" y="553.05" font-family="Liberation Serif" font-size="12.5" fill="#000" stroke="#000" stroke-width="0.45" stroke-linejoin="round" textLength="11.0" lengthAdjust="spacingAndGlyphs" font-weight="bold">15</text>
<text x="158.97" y="576.7" font-family="Liberation Serif" font-size="19.5" stroke="#000" stroke-width="0.4" textLength="37.4" lengthAdjust="spacingAndGlyphs">1<tspan font-style="italic">&#956;</tspan>m</text>
<text x="251.48" y="576.7" font-family="Liberation Serif" font-size="19.5" stroke="#000" stroke-width="0.4" textLength="49.8" lengthAdjust="spacingAndGlyphs">10<tspan font-style="italic">&#956;</tspan>m</text>
<text x="419.22" y="576.7" font-family="Liberation Serif" font-size="19.5" stroke="#000" stroke-width="0.4" textLength="37.4" lengthAdjust="spacingAndGlyphs">1<tspan font-style="italic">&#956;</tspan>m</text>
<text x="511.73" y="576.7" font-family="Liberation Serif" font-size="19.5" stroke="#000" stroke-width="0.4" textLength="49.8" lengthAdjust="spacingAndGlyphs">10<tspan font-style="italic">&#956;</tspan>m</text>
<text x="679.47" y="576.7" font-family="Liberation Serif" font-size="19.5" stroke="#000" stroke-width="0.4" textLength="37.4" lengthAdjust="spacingAndGlyphs">1<tspan font-style="italic">&#956;</tspan>m</text>
<text x="771.98" y="576.7" font-family="Liberation Serif" font-size="19.5" stroke="#000" stroke-width="0.4" textLength="49.8" lengthAdjust="spacingAndGlyphs">10<tspan font-style="italic">&#956;</tspan>m</text>
<path d="M114.80 59.60L110.50 78.60M119.30 59.80L114.50 78.60M110.50 67.10H119.70M109.80 70.70H119.00" stroke="#ff2400" stroke-width="1.7" fill="none" stroke-linecap="round"/>
<path d="M387.30 59.80L383.00 78.80M391.80 60.00L387.00 78.80M383.00 67.30H392.20M382.30 70.90H391.50" stroke="#ff2400" stroke-width="1.7" fill="none" stroke-linecap="round"/>
<path d="M660.10 59.70L655.80 78.70M664.60 59.90L659.80 78.70M655.80 67.20H665.00M655.10 70.80H664.30" stroke="#ffa000" stroke-width="1.7" fill="none" stroke-linecap="round"/>
<text x="122.00" y="74.40" font-family="Liberation Sans" font-size="21.2" fill="#ff2400" stroke="#ff2400" stroke-width="0.4" stroke-linejoin="round" textLength="12.7" lengthAdjust="spacingAndGlyphs" >3</text>
<text x="397.00" y="74.50" font-family="Liberation Serif" font-size="22.5" fill="#ff2400" stroke="#ff2400" stroke-width="0.5" stroke-linejoin="round" textLength="23.0" lengthAdjust="spacingAndGlyphs" >17</text>
<text x="667.60" y="74.20" font-family="Liberation Sans" font-size="21.2" fill="#ffa000" stroke="#ffa000" stroke-width="0.4" stroke-linejoin="round" textLength="25.0" lengthAdjust="spacingAndGlyphs" >33</text>
<text x="135.00" y="237.70" font-family="Liberation Serif" font-size="22.5" fill="#ff2400" stroke="#ff2400" stroke-width="0.25" stroke-linejoin="round" textLength="50.4" lengthAdjust="spacingAndGlyphs" >Type</text>
<path d="M189.4 231.0H200.6" stroke="#ff2400" stroke-width="1.6" fill="none"/>
<text x="204.30" y="237.70" font-family="Liberation Serif" font-size="22.5" fill="#ff2400" stroke="#ff2400" stroke-width="0.25" stroke-linejoin="round" >1</text>
<text x="381.60" y="240.60" font-family="Liberation Serif" font-size="22.5" fill="#ff2400" stroke="#ff2400" stroke-width="0.25" stroke-linejoin="round" textLength="161.6" lengthAdjust="spacingAndGlyphs" >Red/Reddened</text>
<text x="707.50" y="237.70" font-family="Liberation Serif" font-size="22.5" fill="#ffa000" stroke="#ffa000" stroke-width="0.25" stroke-linejoin="round" textLength="50.4" lengthAdjust="spacingAndGlyphs" >Type</text>
<path d="M761.6 231.0H773.3" stroke="#ffa000" stroke-width="1.6" fill="none"/>
<text x="776.60" y="237.70" font-family="Liberation Serif" font-size="22.5" fill="#ffa000" stroke="#ffa000" stroke-width="0.25" stroke-linejoin="round" textLength="12.4" lengthAdjust="spacingAndGlyphs" >2</text>
<text x="134.00" y="524.40" font-family="Liberation Serif" font-size="22.5" fill="#4f8a4a" stroke="#4f8a4a" stroke-width="0.25" stroke-linejoin="round" textLength="47.5" lengthAdjust="spacingAndGlyphs" >Star</text>
<text x="408.60" y="524.30" font-family="Liberation Serif" font-size="22.5" fill="#0a28f5" stroke="#0a28f5" stroke-width="0.25" stroke-linejoin="round" textLength="33.9" lengthAdjust="spacingAndGlyphs" >Gal</text>
<text x="680.00" y="524.40" font-family="Liberation Serif" font-size="22.5" fill="#0cf50c" stroke="#0cf50c" stroke-width="0.25" stroke-linejoin="round" textLength="38.0" lengthAdjust="spacingAndGlyphs" >SBs</text>
<text x="333.30" y="619.60" font-family="Liberation Serif" font-size="30" fill="#000" stroke="#000" stroke-width="0.3" stroke-linejoin="round" textLength="15.6" lengthAdjust="spacingAndGlyphs" >&#955;</text>
<g transform="translate(373.6,619.6) scale(1.12,1)">
<text x="0.00" y="0.00" font-family="Liberation Serif" font-size="30" fill="#000" stroke="#000" stroke-width="0.3" stroke-linejoin="round" textLength="150.9" lengthAdjust="spacing" >(Observer&#8217;s</text>
</g>
<g transform="translate(558.8,619.6) scale(1.12,1)">
<text x="0.00" y="0.00" font-family="Liberation Serif" font-size="30" fill="#000" stroke="#000" stroke-width="0.3" stroke-linejoin="round" textLength="91.1" lengthAdjust="spacing" >frame)</text>
</g>
<g transform="translate(24.4,0) rotate(-90)">
<text x="-427.90" y="0.00" font-family="Liberation Serif" font-size="30" stroke="#000" stroke-width="0.3" textLength="14.6" lengthAdjust="spacingAndGlyphs" >&#955;</text>
<text x="-409.20" y="0.00" font-family="Liberation Serif" font-size="30" stroke="#000" stroke-width="0.3" textLength="15.2" lengthAdjust="spacingAndGlyphs" >F</text>
<text x="-392.40" y="9.20" font-family="Liberation Serif" font-size="20" stroke="#000" stroke-width="0.45" textLength="9.2" lengthAdjust="spacingAndGlyphs" >&#955;</text>
<text x="-351.80" y="0.00" font-family="Liberation Serif" font-size="30" stroke="#000" stroke-width="0.3" textLength="10.0" lengthAdjust="spacingAndGlyphs" >(</text>
<text x="-340.20" y="0.00" font-family="Liberation Serif" font-size="30" stroke="#000" stroke-width="0.3" textLength="13.3" lengthAdjust="spacingAndGlyphs" >e</text>
<text x="-324.60" y="0.00" font-family="Liberation Serif" font-size="30" stroke="#000" stroke-width="0.3" textLength="10.0" lengthAdjust="spacingAndGlyphs" >r</text>
<text x="-308.10" y="0.00" font-family="Liberation Serif" font-size="30" stroke="#000" stroke-width="0.3" textLength="15.0" lengthAdjust="spacingAndGlyphs" >g</text>
<text x="-274.80" y="0.00" font-family="Liberation Serif" font-size="30" stroke="#000" stroke-width="0.3" textLength="11.1" lengthAdjust="spacingAndGlyphs" >s</text>
<text x="-260.30" y="-8.70" font-family="Liberation Serif" font-size="18" stroke="#000" stroke-width="0.45" textLength="7.6" lengthAdjust="spacingAndGlyphs" >&#8722;</text>
<text x="-246.60" y="-8.70" font-family="Liberation Serif" font-size="18" stroke="#000" stroke-width="0.45" textLength="9.2" lengthAdjust="spacingAndGlyphs" >1</text>
<text x="-220.20" y="0.00" font-family="Liberation Serif" font-size="30" stroke="#000" stroke-width="0.3" textLength="13.3" lengthAdjust="spacingAndGlyphs" >c</text>
<text x="-206.50" y="0.00" font-family="Liberation Serif" font-size="30" stroke="#000" stroke-width="0.3" textLength="29.0" lengthAdjust="spacingAndGlyphs" >m</text>
<text x="-173.30" y="-8.70" font-family="Liberation Serif" font-size="18" stroke="#000" stroke-width="0.45" textLength="8.2" lengthAdjust="spacingAndGlyphs" >&#8722;</text>
<text x="-161.40" y="-8.70" font-family="Liberation Serif" font-size="18" stroke="#000" stroke-width="0.45" textLength="9.8" lengthAdjust="spacingAndGlyphs" >2</text>
<text x="-149.00" y="0.00" font-family="Liberation Serif" font-size="30" stroke="#000" stroke-width="0.3" textLength="7.9" lengthAdjust="spacingAndGlyphs" >)</text>
</g>
</svg>
</body></html>
